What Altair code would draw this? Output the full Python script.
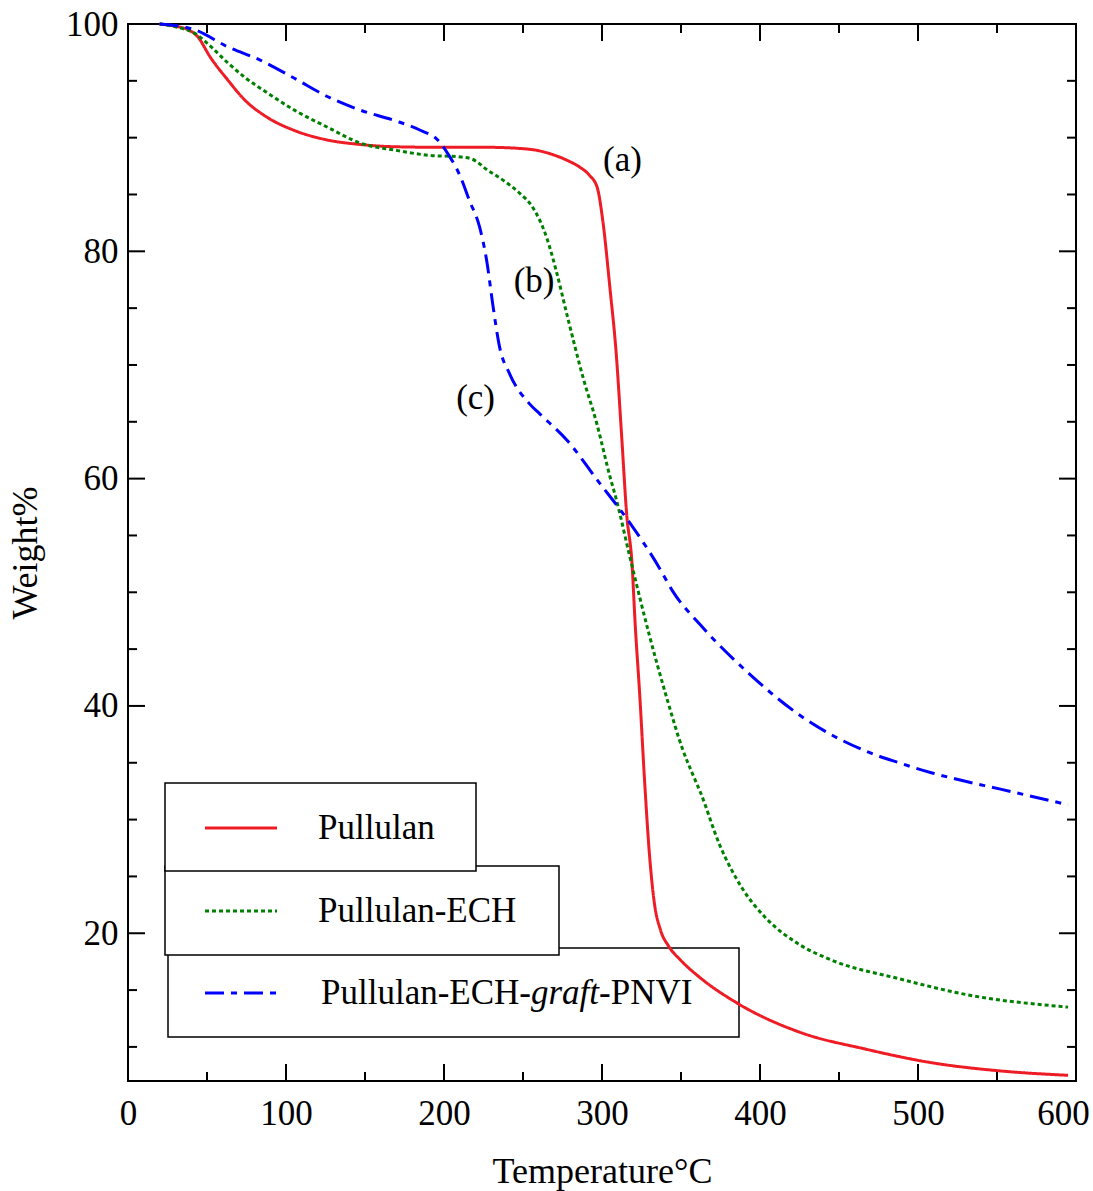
import altair as alt
import pandas as pd

# ---------------- data ----------------
series_names = ["Pullulan", "Pullulan-ECH", "Pullulan-ECH-graft-PNVI"]

temp_pullulan = [20, 30, 38, 44, 52, 63, 74, 88, 105, 126, 147, 169, 200, 228, 248, 260, 269,
                 278, 286, 292, 297, 300.5, 305, 309, 312.5, 315.6, 319, 321, 324, 327, 330,
                 333, 337, 342, 350, 362, 385, 425, 467, 509, 551, 595]
wt_pullulan = [100, 99.8, 99.5, 98.9, 97.1, 95.1, 93.3, 91.8, 90.65, 89.8, 89.4, 89.2, 89.15,
               89.15, 89.05, 88.85, 88.5, 88.0, 87.4, 86.7, 85.6, 82.7, 76.8, 71, 63.6, 56.9,
               52.5, 47.2, 40.7, 33.3, 27, 22.8, 20.3, 18.9, 17.6, 16.1, 13.9, 11.3, 9.8, 8.6,
               7.9, 7.5]

temp_ech = [20, 31.6, 42, 52.5, 63, 74, 88.6, 105.6, 126.5, 147.4, 169, 190, 210.6, 218, 227,
            238, 248, 256, 265, 271, 277.7, 288, 296.6, 305, 309, 317.5, 330, 341, 351, 358.6,
            362, 374.4, 389, 404, 425, 446, 488, 530.7, 595]
wt_ech = [100, 99.7, 99.2, 98, 96.6, 95.3, 93.9, 92.4, 90.9, 89.5, 88.9, 88.45, 88.3, 88.1,
          87.2, 86.2, 85.1, 83.9, 81.2, 78.3, 74.5, 68.9, 64.9, 60.2, 58.2, 53.2, 46.2, 40.7,
          36.2, 33.6, 32.5, 27.8, 23.9, 21.3, 19, 17.6, 16, 14.6, 13.5]

temp_pnvi = [20, 42, 63, 84, 105.6, 126.5, 147.4, 169, 185, 196, 202.4, 210.6, 216, 222.6,
             227, 231, 235, 241.6, 254, 260.6, 277.7, 298.5, 315.6, 336.5, 344.7, 361.8,
             393.4, 425, 467.4, 488, 509, 526, 551.5, 595]
wt_pnvi = [100, 99.5, 98, 96.8, 95.2, 93.6, 92.4, 91.5, 90.65, 89.8, 88.6, 86.5, 84.5, 82.1,
           79.2, 75.2, 71.7, 69.2, 66.6, 65.7, 63.4, 59.6, 56.5, 52.1, 50.1, 47.2, 42.8, 39.2,
           36.0, 35.0, 34.1, 33.5, 32.7, 31.3]

ann_text = ["(a)", "(b)", "(c)"]
ann_temp = [313, 257, 220]
ann_wt = [88.0, 77.4, 67.1]

x_major = [0, 100, 200, 300, 400, 500, 600]
x_minor = [50, 150, 250, 350, 450, 550]
y_major = [20, 40, 60, 80, 100]
y_minor = [10, 15, 25, 30, 35, 45, 50, 55, 65, 70, 75, 85, 90, 95]

# ---------------- styling / layout ----------------
colors = ["#ee1c25", "#008000", "#0000ff"]
dashes = [[1, 0], [4, 3], [19, 7, 6, 7]]
FONT = "Liberation Serif"
W, H = 948, 1057
MAJ, MIN = 17, 9

rows = []
for name, ts, ws in zip(series_names, [temp_pullulan, temp_ech, temp_pnvi],
                        [wt_pullulan, wt_ech, wt_pnvi]):
    for i, (t, w) in enumerate(zip(ts, ws)):
        rows.append({"series": name, "temp": t, "weight": w, "i": i})
df = pd.DataFrame(rows)

xscale = alt.Scale(domain=[0, 600], nice=False, zero=False)
yscale = alt.Scale(domain=[7, 100], nice=False, zero=False)

xaxis = alt.Axis(values=x_major, format="d", tickSize=0, domain=False, grid=False,
                 labelFlush=False,
                 labelOffset={"condition": {"test": "datum.value == 600", "value": -13},
                              "value": 0},
                 labelFont=FONT, labelFontSize=35, labelColor="black", labelPadding=15,
                 title="Temperature°C", titleFont=FONT, titleFontSize=36,
                 titleFontWeight="normal", titleColor="black", titleY=101,
                 titleBaseline="alphabetic")
yaxis = alt.Axis(values=y_major, format="d", tickSize=0, domain=False, grid=False,
                 labelFlush=False,
                 labelFont=FONT, labelFontSize=35, labelColor="black", labelPadding=10,
                 title="Weight%", titleFont=FONT, titleFontSize=36,
                 titleFontWeight="normal", titleColor="black", titleX=-92,
                 titleBaseline="alphabetic")

one = pd.DataFrame({"k": [0]})

# legend boxes (drawn bottom to top: 3, 2, 1)
legend_boxes = [
    (40, 611, 924, 1013),
    (37, 431, 842, 931),
    (37, 348, 759, 847),
]
layers = []
for (x1, x2, y1, y2) in legend_boxes:
    layers.append(
        alt.Chart(one).mark_rect(fill="white", stroke="black", strokeWidth=1.5).encode(
            x=alt.value(x1), x2=alt.value(x2), y=alt.value(y1), y2=alt.value(y2))
    )

lines = alt.Chart(df).mark_line(strokeWidth=3, interpolate="monotone").encode(
    x=alt.X("temp:Q", scale=xscale, axis=xaxis),
    y=alt.Y("weight:Q", scale=yscale, axis=yaxis),
    color=alt.Color("series:N", scale=alt.Scale(domain=series_names, range=colors), legend=None),
    strokeDash=alt.StrokeDash("series:N", scale=alt.Scale(domain=series_names, range=dashes),
                              legend=None),
    order="i:Q",
)
layers.append(lines)

# legend samples and labels
sample_y = [804, 887, 969]
for name, c, d, sy in zip(series_names, colors, dashes, sample_y):
    layers.append(
        alt.Chart(one).mark_rule(color=c, strokeWidth=3, strokeDash=d).encode(
            x=alt.value(77), x2=alt.value(149), y=alt.value(sy))
    )
text_style = dict(font=FONT, fontSize=35, color="black", align="left", baseline="middle")
layers.append(alt.Chart(one).mark_text(text="Pullulan", **text_style).encode(
    x=alt.value(190), y=alt.value(sample_y[0])))
layers.append(alt.Chart(one).mark_text(text="Pullulan-ECH", **text_style).encode(
    x=alt.value(190), y=alt.value(sample_y[1])))
fs = 35
w1 = 6.0 * fs
w2 = 1.945 * fs
layers.append(alt.Chart(one).mark_text(text="Pullulan-ECH-", **text_style).encode(
    x=alt.value(193), y=alt.value(sample_y[2])))
layers.append(alt.Chart(one).mark_text(text="graft", fontStyle="italic", **text_style).encode(
    x=alt.value(193 + w1), y=alt.value(sample_y[2])))
layers.append(alt.Chart(one).mark_text(text="-PNVI", **text_style).encode(
    x=alt.value(193 + w1 + w2), y=alt.value(sample_y[2])))

# (a), (b), (c) annotations
ann_df = pd.DataFrame({"t": ann_text, "x": ann_temp, "y": ann_wt})
layers.append(alt.Chart(ann_df).mark_text(font=FONT, fontSize=35, color="black",
                                          baseline="middle").encode(
    x=alt.X("x:Q", scale=xscale), y=alt.Y("y:Q", scale=yscale), text="t:N"))

# inward ticks on all four sides
def xticks(vals, length):
    d = pd.DataFrame({"v": vals})
    bot = alt.Chart(d).mark_rule(color="black", strokeWidth=2).encode(
        x=alt.X("v:Q", scale=xscale), y=alt.value(H), y2=alt.value(H - length))
    top = alt.Chart(d).mark_rule(color="black", strokeWidth=2).encode(
        x=alt.X("v:Q", scale=xscale), y=alt.value(0), y2=alt.value(length))
    return [bot, top]

def yticks(vals, length):
    d = pd.DataFrame({"v": vals})
    left = alt.Chart(d).mark_rule(color="black", strokeWidth=2).encode(
        y=alt.Y("v:Q", scale=yscale), x=alt.value(0), x2=alt.value(length))
    right = alt.Chart(d).mark_rule(color="black", strokeWidth=2).encode(
        y=alt.Y("v:Q", scale=yscale), x=alt.value(W), x2=alt.value(W - length))
    return [left, right]

layers += xticks(x_major, MAJ) + xticks(x_minor, MIN)
layers += yticks(y_major, MAJ) + yticks(y_minor, MIN)

chart = alt.layer(*layers).properties(
    width=W, height=H,
    autosize=alt.AutoSizeParams(type="none"),
    padding={"left": 128, "top": 24, "right": 17, "bottom": 110},
    background="white",
).configure_view(stroke="black", strokeWidth=2)

chart.save("out.html", embed_options={"renderer": "svg", "actions": False})
